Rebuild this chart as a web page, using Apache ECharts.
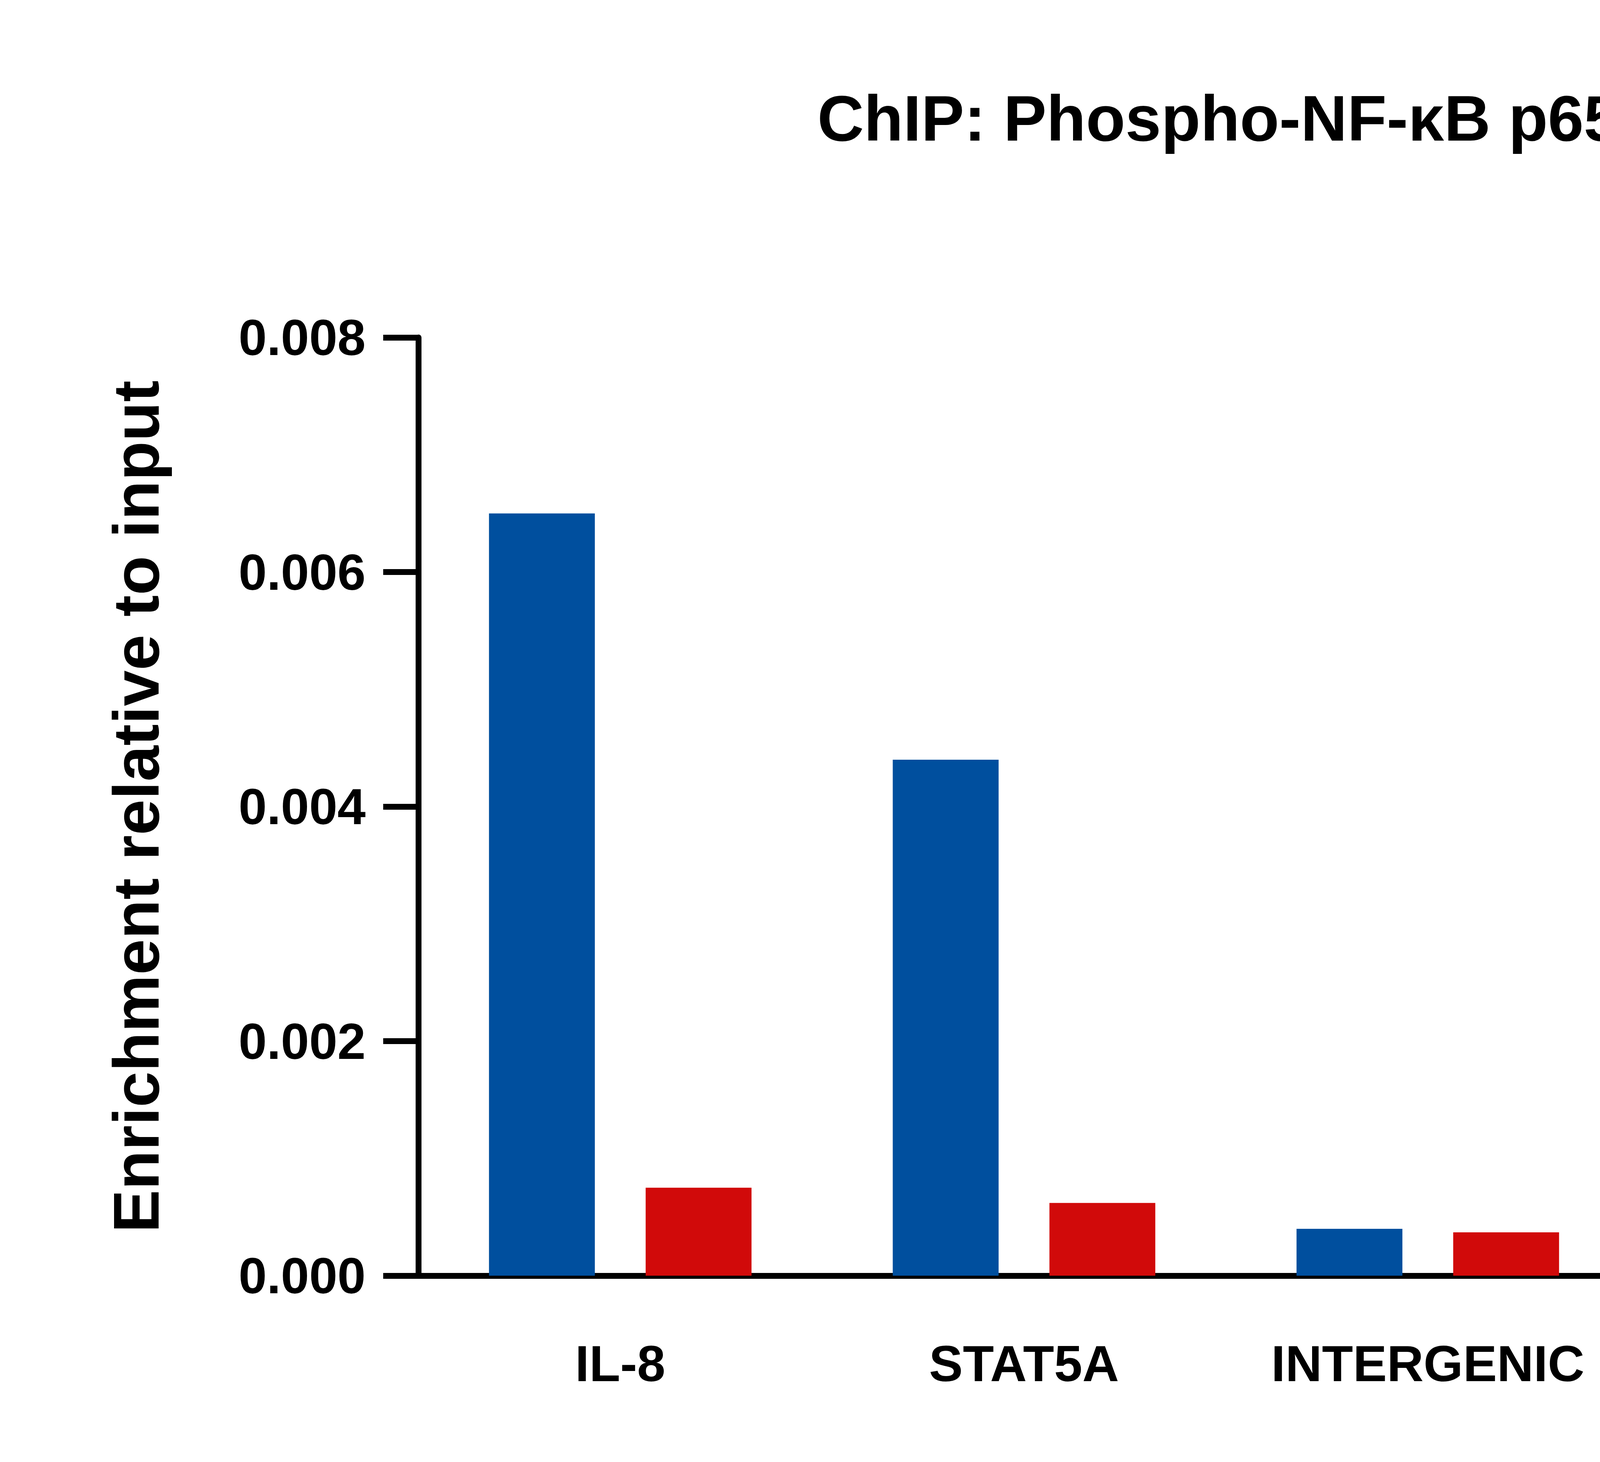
<!DOCTYPE html>
<html>
<head>
<meta charset="utf-8">
<script src="https://cdn.jsdelivr.net/npm/echarts@6/dist/echarts.min.js"></script>
<style>html,body{margin:0;padding:0;background:#fff;overflow:hidden}#chart{width:7842px;height:3743px}</style>
</head>
<body>
<div id="chart"></div>
<script>
// categories and values
var categories = ['IL-8', 'STAT5A', 'INTERGENIC'];
var p65Values = [0.0065, 0.0044, 0.0004];
var iggValues = [0.00075, 0.00062, 0.00037];
var yTicks = [0, 0.002, 0.004, 0.006, 0.008];

var font = 'Liberation Sans, Arial, sans-serif';
var chart = echarts.init(document.getElementById('chart'), null, { renderer: 'svg', width: 7842, height: 3743 });
chart.setOption({
    animation: false,
    title: {
        text: 'ChIP: Phospho-NF-κB p65 (Ser468) (82335-1-RR)',
        left: 3990, top: 215, textAlign: 'center',
        textStyle: { fontFamily: font, fontWeight: 'bold', fontSize: 165, color: '#000' }
    },
    legend: {
        orient: 'vertical',
        left: 4353, top: 930,
        itemWidth: 256, itemHeight: 130, itemGap: 90,
        textStyle: { fontFamily: font, fontSize: 150, color: '#000', lineHeight: 205, padding: [0, 0, 0, 90] },
        data: [
            { name: 'Phospho-NF-κB p65 (Ser468)\n(82335-1-RR)', icon: 'rect' },
            { name: 'Normal Rabbit IgG (98136-1-RR)', icon: 'rect' }
        ]
    },
    grid: { left: 1071, right: 7842 - 4172, top: 864, bottom: 3743 - 3266 },
    xAxis: {
        type: 'category',
        data: categories,
        axisLine: { lineStyle: { color: '#000', width: 15 } },
        axisTick: { alignWithLabel: true, length: 90, lineStyle: { width: 15, color: '#000' } },
        axisLabel: { interval: 0, margin: 160, fontFamily: font, fontWeight: 'bold', fontSize: 130, color: '#000' }
    },
    yAxis: {
        type: 'value',
        min: 0, max: yTicks[yTicks.length - 1], interval: 0.002,
        name: 'Enrichment relative to input',
        nameLocation: 'middle', nameGap: 640,
        nameTextStyle: { fontFamily: font, fontWeight: 'bold', fontSize: 165, color: '#000' },
        axisLine: { show: true, lineStyle: { color: '#000', width: 15 } },
        axisTick: { show: true, length: 90, lineStyle: { width: 15, color: '#000' } },
        splitLine: { show: false },
        axisLabel: { margin: 135, fontFamily: font, fontWeight: 'bold', fontSize: 130, color: '#000',
            formatter: function (v) { return v.toFixed(3); } }
    },
    series: [
        { name: 'Phospho-NF-κB p65 (Ser468)\n(82335-1-RR)', type: 'bar', data: p65Values,
          barWidth: 271, barGap: '48%', itemStyle: { color: '#004F9E' } },
        { name: 'Normal Rabbit IgG (98136-1-RR)', type: 'bar', data: iggValues,
          barWidth: 271, itemStyle: { color: '#D10A0A' } }
    ]
});
</script>
</body>
</html>
